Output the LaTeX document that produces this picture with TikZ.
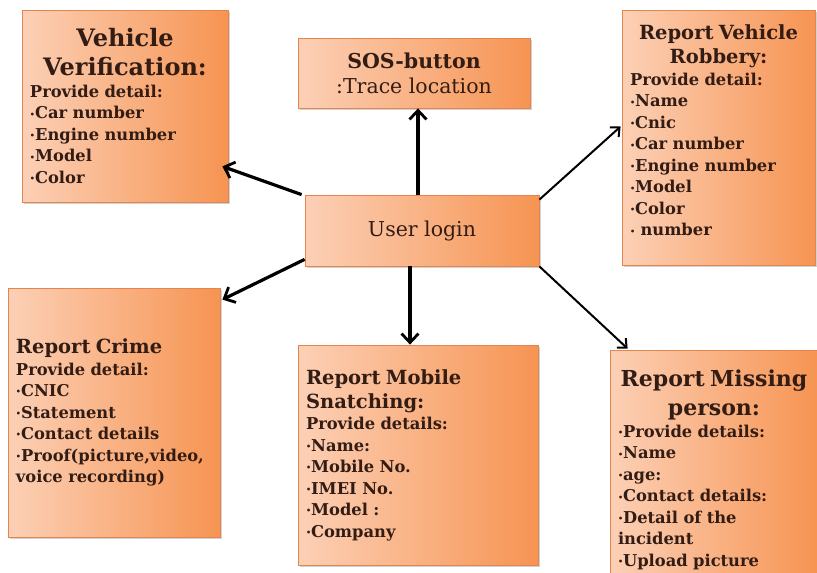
\documentclass[tikz,border=0pt]{standalone}
\usepackage{fontspec}
\setmainfont{DejaVu Serif}
\usetikzlibrary{arrows.meta,calc,shadows}

\definecolor{inkbrown}{RGB}{50,28,20}
\definecolor{boxlight}{RGB}{252,208,182}
\definecolor{boxdark}{RGB}{246,148,82}
\definecolor{boxline}{RGB}{228,132,78}

\newcommand{\bul}{\raisebox{0.2ex}{\footnotesize\textbullet}}
\newcommand{\bigtitle}{\fontsize{24}{29}\selectfont}
\newcommand{\misstitle}{\fontsize{22}{29}\selectfont}
\newcommand{\midtitle}{\fontsize{19.5}{24}\selectfont}

\tikzset{
  infobox/.style={draw=boxline, line width=0.8pt, left color=boxlight, right color=boxdark,
    drop shadow={opacity=0.35, shadow xshift=2pt, shadow yshift=-2pt},
    text=inkbrown, inner xsep=8pt, inner ysep=4pt, align=left,
    font=\bfseries\fontsize{16.3}{21.5}\selectfont},
  fatarr/.style={line width=3.2pt, -{Straight Barb[length=9pt,width=17pt,line width=2.8pt]}},
  slimarr/.style={line width=2pt, -{Straight Barb[length=7pt,width=13pt,line width=2pt]}}
}

\begin{document}
\begin{tikzpicture}[x=1pt, y=-1pt]
  \clip (0,0) rectangle (817,573);
  \fill[white] (0,0) rectangle (817,573);

  % centre box
  \node[infobox, minimum width=234pt, minimum height=71pt, align=center,
        font=\fontsize{20.5}{25}\selectfont] (login) at (422,230.5) {User login};

  % top row
  \node[infobox, minimum width=232pt, minimum height=70pt, align=center,
        font=\fontsize{20.5}{25}\selectfont] (sos) at (414,73)
    {\bfseries SOS-button\\:Trace location};

  \node[infobox, text width=190pt, minimum height=192pt] (vv) at (125,106)
    {{\centering\bigtitle Vehicle\\ Verification:\par}
     Provide detail:\\
     \bul Car number\\
     \bul Engine number\\
     \bul Model\\
     \bul Color};

  \node[infobox, text width=177pt, minimum height=255pt] (rob) at (718.5,137.5)
    {{\centering\midtitle Report Vehicle\\ Robbery:\par}
     Provide detail:\\
     \bul Name\\
     \bul Cnic\\
     \bul Car number\\
     \bul Engine number\\
     \bul Model\\
     \bul Color\\
     \bul\ number\par\vspace*{14pt}};

  % bottom row
  \node[infobox, text width=196pt, minimum height=249pt] (crime) at (114,412.5)
    {{\midtitle Report Crime\par}
     Provide detail:\\
     \bul CNIC\\
     \bul Statement\\
     \bul Contact details\\
     \bul Proof(picture,video,\\
     voice recording)};

  \node[infobox, text width=224pt, minimum height=220pt] (mob) at (418,455)
    {{\midtitle Report Mobile\\ Snatching:\par}
     Provide details:\\
     \bul Name:\\
     \bul Mobile No.\\
     \bul IMEI No.\\
     \bul Model :\\
     \bul Company};

  \node[infobox, text width=192pt, minimum height=240pt] (miss) at (818-104,470)
    {{\centering\misstitle Report~Missing\\ person:\par}
     \bul Provide details:\\
     \bul Name\\
     \bul age:\\
     \bul Contact details:\\
     \bul Detail of the\\
     incident\\
     \bul Upload picture\\[8pt]};

  % connectors
  \draw[fatarr] (login.north -| sos.south) ++(4,0) coordinate (sosfoot) -- (sosfoot |- sos.south);
  \draw[fatarr] ($(login.north west)+(-3,0)$) -- ($(vv.south east)+(-6,-36)$);
  \draw[fatarr] ($(login.south west)+(0,-7)$) -- ($(crime.north east)+(2,12)$);
  \draw[fatarr] (login.south -| mob.north) ++(-8,0) coordinate (mobtop) -- (mobtop |- mob.north);
  \draw[slimarr] ($(login.north east)+(0,5)$) -- ($(rob.west)+(-1,-11)$);
  \draw[slimarr] (login.south east) -- ($(miss.north west)+(18,-1)$);
\end{tikzpicture}
\end{document}
